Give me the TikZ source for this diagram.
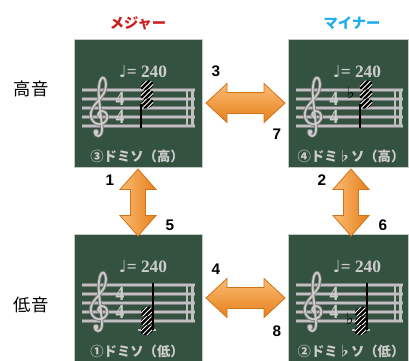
\documentclass[tikz,border=0pt]{standalone}
\usepackage{fontspec}
\usepackage{graphicx}
\setmainfont{Liberation Sans}
\newfontfamily\jp{Noto Sans CJK JP}
\newfontfamily\dv{DejaVu Sans}
\newfontfamily\ls{Liberation Serif}
\definecolor{boardc}{HTML}{33523F}
\definecolor{boardedge}{HTML}{C4C8C6}
\definecolor{chalk}{HTML}{CDCDCD}
\definecolor{chalkedge}{HTML}{7A7A7A}
\definecolor{stafflt}{HTML}{C0C0C0}
\definecolor{staffdk}{HTML}{808080}
\definecolor{majred}{HTML}{D01E1E}
\definecolor{minblue}{HTML}{1EAEEA}
\definecolor{orlt}{HTML}{FABB72}
\definecolor{ordk}{HTML}{E6801C}
\definecolor{oredge}{HTML}{D27218}
\tikzset{
  board/.style={fill=boardc, draw=boardedge, line width=0.8pt, anchor=north west, inner sep=0pt},
  num/.style={font=\fontsize{11.5}{12}\selectfont\bfseries, text=black, inner sep=0pt},
  chalktxt/.style={text=chalk, inner sep=0pt},
  tsig/.style={text=chalk, inner sep=0pt, font=\ls\bfseries\fontsize{12}{12}\selectfont},
  hdr/.style={font=\jp\bfseries\fontsize{10.7}{11}\selectfont, inner sep=0pt},
  side/.style={font=\jp\fontsize{13}{13}\selectfont, inner sep=0pt, text=black},
  stem/.style={black, line width=0.8pt},
  flatsym/.style={font=\dv\fontsize{12}{12}\selectfont, anchor=base, inner sep=0pt, text=black},
  harr/.style={draw=oredge, line width=0.6pt, top color=orlt, bottom color=ordk},
  varr/.style={draw=oredge, line width=0.6pt, left color=orlt, right color=ordk},
  clefdk/.style={chalkedge, line width=2.5pt, line cap=round, line join=round},
  cleflt/.style={chalk, line width=1.3pt, line cap=round, line join=round},
}
% treble clef drawn as a stroke, origin on the G line
\newcommand\clefpath{plot[smooth, tension=0.65] coordinates {(1,1) (-2,-2) (1,-6) (6,-4) (7,2) (2,7) (-5,6) (-9,0) (-8,-8) (-2,-16) (4,-24) (6,-33) (4,-39) (1,-38) (-1,-31) (-1,-20) (1,0) (2,12) (1,17) (-2,19) (-5,17)}}
% staff, clef, time signature, tempo and label of one board
\newcommand\staffblock[5]{% #1 left, #2 top, #3 staff right, #4 label, #5 suffix
  \foreach \k in {0,...,4} {
    \draw[staffdk, line width=2.4pt] (#1+8, #2+51+9*\k) -- (#3, #2+51+9*\k);
    \draw[stafflt, line width=1.2pt] (#1+8, #2+51+9*\k) -- (#3, #2+51+9*\k);
  }
  \draw[stafflt, line width=1pt] (#3-8, #2+51) -- (#3-8, #2+87);
  \draw[stafflt, line width=2.6pt] (#3-2.5, #2+51) -- (#3-2.5, #2+87);
  \begin{scope}[shift={(#1+26, #2+78)}]
    \draw[clefdk] \clefpath;
    \fill[chalkedge] (-4,15) circle [radius=3.3];
    \draw[cleflt] \clefpath;
    \fill[chalk] (-4,15) circle [radius=2.3];
  \end{scope}
  \node[tsig] (tsa#5) at (#1+46, #2+60) {\scalebox{1.1}[1.25]{4}};
  \node[tsig] (tsb#5) at (#1+46, #2+78) {\scalebox{1.1}[1.25]{4}};
  \node[chalktxt] (tempo#5) at (#1+69, #2+33) {{\dv\fontsize{12.5}{12}\selectfont ♩}{\ls\bfseries\fontsize{13}{13}\selectfont = 240}};
  \node[chalktxt] (lab#5) at (#1+63, #2+117) {\jp\bfseries\fontsize{10}{10}\selectfont #4};
}
% hatched note head
\newcommand\nh[2]{%
  \begin{scope}
    \clip[rotate around={25:(#1,#2)}] (#1,#2) ellipse [x radius=6.6, y radius=4.8];
    \fill[black] ({#1-9},{#2-9}) rectangle ({#1+9},{#2+9});
    \foreach \k in {-15,-10,...,15} {\draw[white, line width=0.7pt] ({#1+(\k)-9},{#2+9}) -- ({#1+(\k)+9},{#2-9});}
  \end{scope}}
\begin{document}
\begin{tikzpicture}[x=0.75pt,y=-0.75pt]
\useasboundingbox (0,0) rectangle (409,360);
\fill[white] (0,0) rectangle (409,360);
% boards
\node[board, minimum width=96pt, minimum height=96pt] (b1) at (74,39) {};
\node[board, minimum width=90pt, minimum height=96pt] (b2) at (288,39) {};
\node[board, minimum width=96pt, minimum height=100pt] (b3) at (74,234) {};
\node[board, minimum width=90pt, minimum height=100pt] (b4) at (288,234) {};
\staffblock{74}{39}{195}{③ドミソ（高）}{1}
\staffblock{288}{39}{403}{④ドミ♭ソ（高）}{2}
\staffblock{74}{234}{195}{①ドミソ（低）}{3}
\staffblock{288}{234}{403}{②ドミ♭ソ（低）}{4}
% notes board 1 (major, high)
\nh{147}{85.5}\nh{147}{94.5}\nh{147}{103.5}
\draw[stem] (141,103.5) -- (141,128);
% notes board 2 (minor, high)
\node[flatsym] (fl2) at (351,98) {♭};
\nh{366}{85.5}\nh{366}{94.5}\nh{366}{103.5}
\draw[stem] (360,103.5) -- (360,128);
% notes board 3 (major, low)
\draw[stafflt, line width=1.4pt] (138,330) -- (156,330);
\nh{147}{312}\nh{147}{321}\nh{147}{330}
\draw[stem] (153,330) -- (153,283);
% notes board 4 (minor, low)
\draw[stafflt, line width=1.4pt] (352,330) -- (370,330);
\node[flatsym] (fl4) at (350,324.5) {♭};
\nh{361}{312}\nh{361}{321}\nh{361}{330}
\draw[stem] (367,330) -- (367,283);
% headers
\node[hdr, text=majred] (hmaj) at (138,23) {メジャー};
\node[hdr, text=minblue] (hmin) at (352,23) {マイナー};
\node[side] (hi) at (31,89) {高音};
\node[side] (lo) at (31,305) {低音};
% arrows
\coordinate (ah1) at (245.5,103);
\coordinate (ah2) at (245.5,298);
\coordinate (av1) at (138,202.5);
\coordinate (av2) at (351,202.5);
\foreach \c in {ah1,ah2}{
  \begin{scope}[shift={(\c)}]
    \path[harr] (-39.5,0) -- (-18.5,-19.5) -- (-18.5,-10.5) -- (18.5,-10.5) -- (18.5,-19.5) -- (39.5,0)
      -- (18.5,19.5) -- (18.5,10.5) -- (-18.5,10.5) -- (-18.5,19.5) -- cycle;
  \end{scope}}
\foreach \c in {av1,av2}{
  \begin{scope}[shift={(\c)}]
    \path[varr] (0,-33.5) -- (18,-13) -- (7.5,-13) -- (7.5,13) -- (18,13) -- (0,33.5)
      -- (-18,13) -- (-7.5,13) -- (-7.5,-13) -- (-18,-13) -- cycle;
  \end{scope}}
% numbers
\node[num] (n3) at (216,71) {3};
\node[num] (n7) at (277,134) {7};
\node[num] (n1) at (110,180) {1};
\node[num] (n5) at (170,225) {5};
\node[num] (n2) at (322,180) {2};
\node[num] (n6) at (383,225) {6};
\node[num] (n4) at (216,269) {4};
\node[num] (n8) at (277,331) {8};
\end{tikzpicture}
\end{document}
